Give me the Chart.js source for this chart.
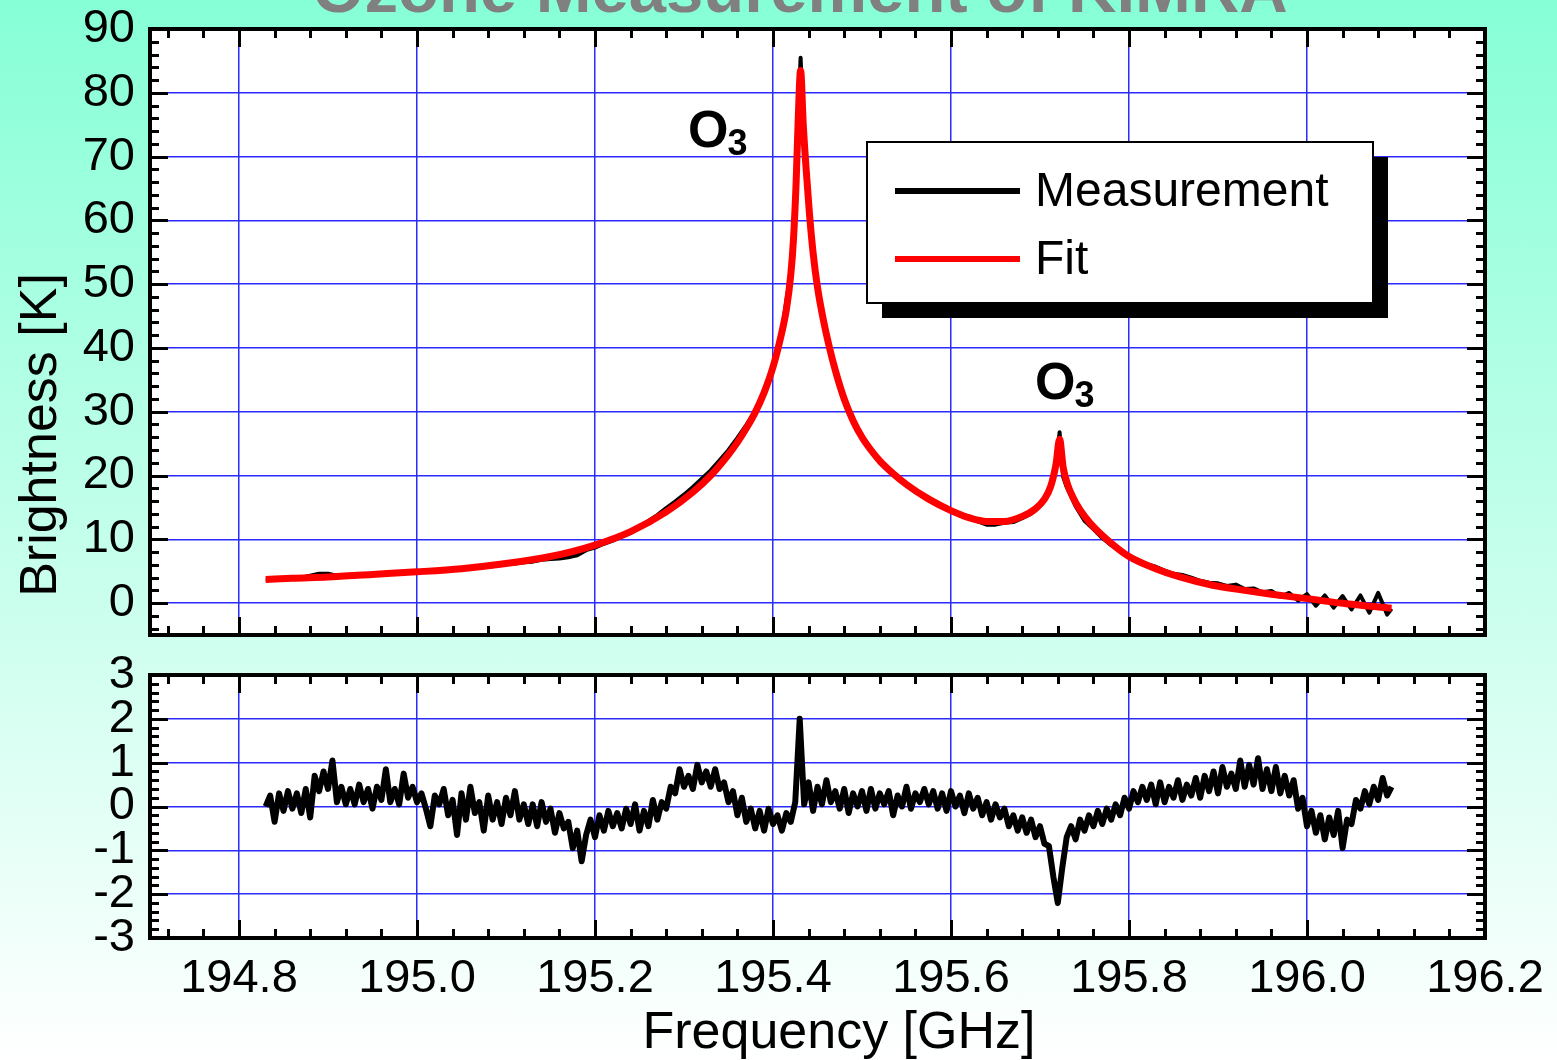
<!DOCTYPE html>
<html>
<head>
<meta charset="utf-8">
<script src="https://cdn.jsdelivr.net/npm/chart.js@4.4.0/dist/chart.umd.min.js"></script>
<style>
  html, body { margin: 0; padding: 0; }
  body {
    width: 1557px; height: 1060px; overflow: hidden; position: relative;
    background: linear-gradient(to bottom, #86ffd6 0%, #ffffff 100%);
  }
  canvas { position: absolute; left: 0; }
  #chart-top { top: 0; }
  #chart-bottom { top: 640px; }
</style>
</head>
<body>
<canvas id="chart-top" width="1557" height="660"></canvas>
<canvas id="chart-bottom" width="1557" height="420"></canvas>
<script>
// ---- data ----
const freqTicks = [194.8, 195.0, 195.2, 195.4, 195.6, 195.8, 196.0, 196.2];
const brightTicks = [0, 10, 20, 30, 40, 50, 60, 70, 80, 90];
const residTicks = [-3, -2, -1, 0, 1, 2, 3];

// measured spectrum [GHz] / [K]
const measFreq = [
  194.83, 194.84, 194.85, 194.86, 194.87, 194.88, 194.89, 194.90, 194.91, 194.92,
  194.93, 194.94, 194.95, 194.96, 194.97, 194.98, 194.99, 195.00, 195.01, 195.02,
  195.03, 195.04, 195.05, 195.06, 195.07, 195.08, 195.09, 195.10, 195.11, 195.12,
  195.13, 195.14, 195.15, 195.16, 195.17, 195.18, 195.19, 195.20, 195.21, 195.22,
  195.23, 195.24, 195.25, 195.26, 195.27, 195.28, 195.29, 195.30, 195.31, 195.32,
  195.33, 195.34, 195.35, 195.36, 195.37, 195.38, 195.39, 195.40, 195.41, 195.42,
  195.425, 195.428, 195.431, 195.434, 195.437, 195.44, 195.445, 195.45, 195.455, 195.46,
  195.47, 195.48, 195.49, 195.50, 195.51, 195.52, 195.53, 195.54, 195.55, 195.56,
  195.57, 195.58, 195.59, 195.60, 195.61, 195.62, 195.63, 195.64, 195.65, 195.66,
  195.67, 195.68, 195.69, 195.70, 195.71, 195.715, 195.718, 195.722, 195.726, 195.73,
  195.74, 195.75, 195.76, 195.77, 195.78, 195.79, 195.80, 195.81, 195.82, 195.83,
  195.84, 195.85, 195.86, 195.87, 195.88, 195.89, 195.90, 195.91, 195.92, 195.93,
  195.94, 195.95, 195.96, 195.97, 195.98, 195.99, 196.00, 196.01, 196.02, 196.03,
  196.04, 196.05, 196.06, 196.07, 196.08, 196.09, 196.095
];
const measK = [
  3.6, 3.7, 3.9, 3.8, 4.0, 4.3, 4.6, 4.6, 4.3, 4.3,
  4.4, 4.5, 4.6, 4.7, 4.8, 4.8, 5.0, 5.0, 5.1, 5.1,
  5.2, 5.3, 5.3, 5.5, 5.6, 5.7, 5.9, 6.1, 6.2, 6.4,
  6.5, 6.8, 6.9, 7.0, 7.2, 7.5, 8.3, 8.7, 9.3, 9.8,
  10.4, 11.0, 12.0, 12.9, 13.8, 14.9, 15.9, 17.0, 18.2, 19.5,
  20.8, 22.4, 24.0, 25.9, 27.9, 30.1, 33.3, 37.2, 42.7, 52.0,
  63.0, 75.0, 85.5, 76.0, 69.0, 62.5, 55.0, 49.5, 45.3, 41.8,
  36.4, 31.8, 28.4, 25.8, 23.8, 22.0, 20.7, 19.6, 18.4, 17.4,
  16.6, 15.8, 15.1, 14.4, 14.0, 13.6, 12.8, 12.3, 12.3, 12.6,
  12.7, 13.3, 14.0, 15.3, 17.6, 20.0, 21.5, 26.8, 19.8, 18.2,
  15.2, 12.9, 11.6, 10.2, 9.1, 8.2, 7.4, 6.8, 6.1, 5.7,
  5.1, 4.6, 4.4, 4.0, 3.5, 3.2, 3.1, 2.7, 2.9, 2.2,
  2.3, 1.7, 1.9, 1.0, 1.6, 0.4, 1.4, -0.4, 1.2, -0.7,
  1.1, -1.0, 1.2, -1.5, 1.6, -1.8, -0.9
];

// fitted model
const fitFreq = [
  194.83, 194.86, 194.90, 194.95, 195.00, 195.05, 195.10, 195.15, 195.20, 195.24,
  195.28, 195.31, 195.33, 195.35, 195.36, 195.37, 195.38, 195.39, 195.40, 195.41,
  195.415, 195.42, 195.423, 195.426, 195.428, 195.431, 195.434, 195.437, 195.441, 195.445,
  195.45, 195.456, 195.463, 195.47, 195.48, 195.49, 195.50, 195.51, 195.52, 195.535,
  195.55, 195.575, 195.60, 195.62, 195.64, 195.66, 195.68, 195.695, 195.705, 195.712,
  195.718, 195.722, 195.726, 195.731, 195.737, 195.745, 195.756, 195.775, 195.80, 195.83,
  195.857, 195.894, 195.93, 195.96, 196.00, 196.044, 196.095
];
const fitK = [
  3.7, 3.9, 4.1, 4.5, 4.9, 5.4, 6.2, 7.3, 9.1, 11.2,
  14.3, 17.4, 20.0, 23.3, 25.2, 27.4, 29.9, 33.0, 37.0, 42.5,
  46.0, 51.5, 57.0, 66.0, 74.5, 83.5, 75.0, 68.5, 61.0, 55.0,
  49.5, 44.8, 40.3, 36.5, 32.0, 28.6, 26.0, 24.0, 22.3, 20.3,
  18.6, 16.3, 14.5, 13.4, 12.8, 12.8, 13.6, 14.8, 16.3, 18.3,
  21.8, 25.7, 21.3, 18.6, 16.6, 14.6, 12.6, 10.0, 7.3, 5.4,
  4.1, 2.8, 2.0, 1.4, 0.7, -0.1, -0.8
];

// residual (measurement - fit)
const resFreq = [
  194.830, 194.835, 194.840, 194.845, 194.850, 194.855, 194.860, 194.865, 194.870, 194.875,
  194.880, 194.885, 194.890, 194.895, 194.900, 194.905, 194.910, 194.915, 194.920, 194.925,
  194.930, 194.935, 194.940, 194.945, 194.950, 194.955, 194.960, 194.965, 194.970, 194.975,
  194.980, 194.985, 194.990, 194.995, 195.000, 195.005, 195.010, 195.015, 195.020, 195.025,
  195.030, 195.035, 195.040, 195.045, 195.050, 195.055, 195.060, 195.065, 195.070, 195.075,
  195.080, 195.085, 195.090, 195.095, 195.100, 195.105, 195.110, 195.115, 195.120, 195.125,
  195.130, 195.135, 195.140, 195.145, 195.150, 195.155, 195.160, 195.165, 195.170, 195.175,
  195.180, 195.185, 195.190, 195.195, 195.200, 195.205, 195.210, 195.215, 195.220, 195.225,
  195.230, 195.235, 195.240, 195.245, 195.250, 195.255, 195.260, 195.265, 195.270, 195.275,
  195.280, 195.285, 195.290, 195.295, 195.300, 195.305, 195.310, 195.315, 195.320, 195.325,
  195.330, 195.335, 195.340, 195.345, 195.350, 195.355, 195.360, 195.365, 195.370, 195.375,
  195.380, 195.385, 195.390, 195.395, 195.400, 195.405, 195.410, 195.415, 195.420, 195.425,
  195.430, 195.435, 195.440, 195.445, 195.450, 195.455, 195.460, 195.465, 195.470, 195.475,
  195.480, 195.485, 195.490, 195.495, 195.500, 195.505, 195.510, 195.515, 195.520, 195.525,
  195.530, 195.535, 195.540, 195.545, 195.550, 195.555, 195.560, 195.565, 195.570, 195.575,
  195.580, 195.585, 195.590, 195.595, 195.600, 195.605, 195.610, 195.615, 195.620, 195.625,
  195.630, 195.635, 195.640, 195.645, 195.650, 195.655, 195.660, 195.665, 195.670, 195.675,
  195.680, 195.685, 195.690, 195.695, 195.700, 195.705, 195.710, 195.715, 195.720, 195.725,
  195.730, 195.735, 195.740, 195.745, 195.750, 195.755, 195.760, 195.765, 195.770, 195.775,
  195.780, 195.785, 195.790, 195.795, 195.800, 195.805, 195.810, 195.815, 195.820, 195.825,
  195.830, 195.835, 195.840, 195.845, 195.850, 195.855, 195.860, 195.865, 195.870, 195.875,
  195.880, 195.885, 195.890, 195.895, 195.900, 195.905, 195.910, 195.915, 195.920, 195.925,
  195.930, 195.935, 195.940, 195.945, 195.950, 195.955, 195.960, 195.965, 195.970, 195.975,
  195.980, 195.985, 195.990, 195.995, 196.000, 196.005, 196.010, 196.015, 196.020, 196.025,
  196.030, 196.035, 196.040, 196.045, 196.050, 196.055, 196.060, 196.065, 196.070, 196.075,
  196.080, 196.085, 196.090, 196.095
];
const resK = [
  0.00, 0.25, -0.35, 0.30, -0.10, 0.35, -0.05, 0.30, -0.15, 0.40,
  -0.25, 0.70, 0.35, 0.80, 0.40, 1.05, 0.10, 0.45, 0.05, 0.40,
  0.05, 0.50, 0.10, 0.40, -0.05, 0.45, 0.15, 0.85, 0.10, 0.40,
  0.05, 0.75, 0.20, 0.45, 0.10, 0.30, -0.05, -0.45, 0.25, 0.05,
  0.40, -0.20, 0.15, -0.65, 0.30, -0.30, 0.45, -0.15, 0.10, -0.55,
  0.25, -0.30, 0.10, -0.40, 0.20, -0.20, 0.35, -0.30, 0.05, -0.40,
  0.05, -0.45, 0.10, -0.35, -0.05, -0.60, -0.15, -0.50, -0.35, -0.95,
  -0.55, -1.25, -0.65, -0.30, -0.70, -0.20, -0.55, -0.10, -0.45, -0.15,
  -0.50, -0.05, -0.40, 0.05, -0.55, -0.10, -0.45, 0.15, -0.30, 0.10,
  -0.05, 0.45, 0.30, 0.85, 0.45, 0.70, 0.40, 0.95, 0.55, 0.80,
  0.45, 0.85, 0.40, 0.55, 0.10, 0.35, -0.20, 0.20, -0.35, -0.05,
  -0.50, -0.10, -0.55, -0.05, -0.40, -0.20, -0.55, -0.15, -0.35, 0.10,
  2.00, 0.05, 0.55, -0.10, 0.45, 0.05, 0.60, 0.10, 0.35, -0.05,
  0.40, -0.15, 0.30, 0.00, 0.35, -0.10, 0.40, -0.05, 0.30, 0.05,
  0.35, -0.20, 0.25, 0.00, 0.45, -0.05, 0.30, 0.10, 0.40, 0.05,
  0.35, -0.05, 0.30, -0.10, 0.35, 0.00, 0.25, -0.15, 0.30, -0.05,
  0.20, -0.20, 0.10, -0.30, 0.05, -0.25, -0.05, -0.45, -0.20, -0.55,
  -0.25, -0.60, -0.30, -0.70, -0.45, -0.85, -0.90, -1.60, -2.20, -1.40,
  -0.70, -0.45, -0.75, -0.30, -0.55, -0.20, -0.45, -0.10, -0.40, -0.05,
  -0.30, 0.05, -0.20, 0.20, -0.05, 0.35, 0.10, 0.45, 0.15, 0.50,
  0.05, 0.55, 0.10, 0.45, 0.20, 0.60, 0.15, 0.50, 0.25, 0.65,
  0.20, 0.70, 0.35, 0.80, 0.30, 0.90, 0.45, 0.75, 0.40, 1.05,
  0.45, 0.95, 0.50, 1.10, 0.40, 0.85, 0.35, 0.90, 0.30, 0.70,
  0.25, 0.60, -0.05, 0.20, -0.45, -0.10, -0.60, -0.20, -0.75, -0.25,
  -0.65, -0.10, -0.95, -0.30, -0.40, 0.15, -0.05, 0.35, 0.05, 0.45,
  0.15, 0.65, 0.25, 0.45
];

const FONT = "'Liberation Sans', Arial, Helvetica, sans-serif";
const GRID_BLUE = "#2b2bff";

function xy(fs, vs) {
  return fs.map((f, i) => ({ x: f, y: vs[i] }));
}

function isMajor(v, step) {
  return Math.abs(v / step - Math.round(v / step)) < 1e-6;
}

// white plot area + thick frame with inward ticks on all four sides
const frameTicks = {
  id: "frameTicks",
  beforeDraw(chart) {
    const { ctx, chartArea: a } = chart;
    ctx.save();
    ctx.fillStyle = "#fff";
    ctx.fillRect(a.left, a.top, a.right - a.left, a.bottom - a.top);
    ctx.restore();
  },
  afterDatasetsDraw(chart, args, o) {
    const { ctx, chartArea: a, scales: { x, y } } = chart;
    ctx.save();
    ctx.strokeStyle = "#000";
    ctx.lineWidth = 3;
    ctx.beginPath();
    for (let k = Math.ceil(x.min / o.xMinor - 1e-6); k * o.xMinor <= x.max + 1e-9; k++) {
      const v = k * o.xMinor;
      const len = isMajor(v, o.xMajor) ? 18 : 9;
      const px = Math.round(x.getPixelForValue(v)) + 0.5;
      ctx.moveTo(px, a.bottom); ctx.lineTo(px, a.bottom - len);
      ctx.moveTo(px, a.top); ctx.lineTo(px, a.top + len);
    }
    for (let k = Math.ceil(y.min / o.yMinor - 1e-6); k * o.yMinor <= y.max + 1e-9; k++) {
      const v = k * o.yMinor;
      const len = isMajor(v, o.yMajor) ? 18 : 9;
      const py = Math.round(y.getPixelForValue(v)) + 0.5;
      ctx.moveTo(a.left, py); ctx.lineTo(a.left + len, py);
      ctx.moveTo(a.right, py); ctx.lineTo(a.right - len, py);
    }
    ctx.stroke();
    ctx.lineWidth = 4;
    ctx.strokeRect(a.left, a.top, a.right - a.left, a.bottom - a.top);
    ctx.restore();
  }
};

// boxed legend with drop shadow
const boxLegend = {
  id: "boxLegend",
  afterDraw(chart, args, o) {
    const { ctx, chartArea: a } = chart;
    const x0 = a.left + o.left, y0 = a.top + o.top;
    ctx.save();
    ctx.fillStyle = "#000";
    ctx.fillRect(x0 + o.shadow, y0 + o.shadow, o.width, o.height);
    ctx.fillStyle = "#fff";
    ctx.fillRect(x0, y0, o.width, o.height);
    ctx.lineWidth = 2;
    ctx.strokeStyle = "#000";
    ctx.strokeRect(x0, y0, o.width, o.height);
    ctx.font = "48px " + FONT;
    ctx.textBaseline = "middle";
    ctx.textAlign = "left";
    chart.data.datasets.forEach((ds, i) => {
      const ly = y0 + 49 + i * 68;
      ctx.strokeStyle = ds.borderColor;
      ctx.lineWidth = 6;
      ctx.beginPath();
      ctx.moveTo(x0 + 28, ly);
      ctx.lineTo(x0 + 153, ly);
      ctx.stroke();
      ctx.fillStyle = "#000";
      ctx.fillText(ds.label, x0 + 168, ly + 2);
    });
    ctx.restore();
  }
};

// free text: figure title, axis titles, line annotations
const texts = {
  id: "texts",
  afterDraw(chart, args, o) {
    const { ctx, scales: { x, y } } = chart;
    ctx.save();
    (o.spots || []).forEach((s) => {
      const px = x.getPixelForValue(s.f), py = y.getPixelForValue(s.k);
      ctx.fillStyle = "#000";
      ctx.textAlign = "left";
      ctx.textBaseline = "alphabetic";
      ctx.font = "bold 52px " + FONT;
      ctx.fillText("O", px, py);
      const w = ctx.measureText("O").width;
      ctx.font = "bold 36px " + FONT;
      ctx.fillText("3", px + w - 1, py + 8);
    });
    if (o.title) {
      ctx.fillStyle = "#808080";
      ctx.font = "bold 67px " + FONT;
      ctx.textAlign = "center";
      ctx.textBaseline = "alphabetic";
      ctx.fillText(o.title, 800, 12);
    }
    if (o.yTitle) {
      ctx.fillStyle = "#000";
      ctx.font = "52px " + FONT;
      ctx.translate(56, 435);
      ctx.rotate(-Math.PI / 2);
      ctx.textAlign = "center";
      ctx.textBaseline = "alphabetic";
      ctx.fillText(o.yTitle, 0, 0);
      ctx.setTransform(1, 0, 0, 1, 0, 0);
    }
    if (o.xTitle) {
      ctx.fillStyle = "#000";
      ctx.font = "52px " + FONT;
      ctx.textAlign = "center";
      ctx.textBaseline = "alphabetic";
      ctx.fillText(o.xTitle, 839, 408);
    }
    ctx.restore();
  }
};

const tickFont = { size: 47, family: FONT };

function fixY(s) {
  s.width = 150;
  s.paddingTop = 0;
  s.paddingBottom = 0;
}

function fixX(h) {
  return (s) => {
    s.height = h;
    s.paddingLeft = 0;
    s.paddingRight = 0;
  };
}

new Chart(document.getElementById("chart-top"), {
  type: "line",
  plugins: [frameTicks, texts, boxLegend],
  data: {
    datasets: [
      {
        label: "Measurement",
        data: xy(measFreq, measK),
        borderColor: "#000000",
        borderWidth: 4,
        borderJoinStyle: "round",
        pointRadius: 0,
        tension: 0,
        order: 1
      },
      {
        label: "Fit",
        data: xy(fitFreq, fitK),
        borderColor: "#ff0000",
        borderWidth: 7,
        borderJoinStyle: "round",
        pointRadius: 0,
        cubicInterpolationMode: "monotone",
        order: 0
      }
    ]
  },
  options: {
    responsive: false,
    animation: false,
    devicePixelRatio: 1,
    layout: { padding: { top: 29, right: 72, left: 0, bottom: 0 } },
    plugins: {
      legend: { display: false },
      tooltip: { enabled: false },
      frameTicks: { xMinor: 0.04, xMajor: 0.2, yMinor: 2, yMajor: 10 },
      boxLegend: { left: 717, top: 113, width: 506, height: 161, shadow: 15 },
      texts: {
        title: "Ozone Measurement of KIMRA",
        yTitle: "Brightness [K]",
        spots: [{ f: 195.3045, k: 71.5 }, { f: 195.6944, k: 32.0 }]
      }
    },
    scales: {
      x: {
        type: "linear",
        min: 194.7,
        max: 196.2,
        afterBuildTicks: (s) => { s.ticks = freqTicks.map((v) => ({ value: v })); },
        afterFit: fixX(25),
        ticks: { display: false },
        grid: { color: GRID_BLUE, lineWidth: 1.5, drawTicks: false },
        border: { display: false }
      },
      y: {
        min: -5,
        max: 90,
        afterBuildTicks: (s) => { s.ticks = brightTicks.map((v) => ({ value: v })); },
        afterFit: fixY,
        ticks: { font: tickFont, color: "#000", padding: 15, autoSkip: false },
        grid: { color: GRID_BLUE, lineWidth: 1.5, drawTicks: false },
        border: { display: false }
      }
    }
  }
});

new Chart(document.getElementById("chart-bottom"), {
  type: "line",
  plugins: [frameTicks, texts],
  data: {
    datasets: [
      {
        label: "Residual",
        data: xy(resFreq, resK),
        borderColor: "#000000",
        borderWidth: 6,
        borderJoinStyle: "round",
        pointRadius: 0,
        tension: 0
      }
    ]
  },
  options: {
    responsive: false,
    animation: false,
    devicePixelRatio: 1,
    layout: { padding: { top: 35, right: 72, left: 0, bottom: 0 } },
    plugins: {
      legend: { display: false },
      tooltip: { enabled: false },
      frameTicks: { xMinor: 0.04, xMajor: 0.2, yMinor: 0.2, yMajor: 1 },
      texts: { xTitle: "Frequency [GHz]" }
    },
    scales: {
      x: {
        type: "linear",
        min: 194.7,
        max: 196.2,
        afterBuildTicks: (s) => { s.ticks = freqTicks.map((v) => ({ value: v })); },
        afterFit: fixX(122),
        ticks: {
          font: tickFont, color: "#000", padding: 13, autoSkip: false, maxRotation: 0,
          callback: (v) => Number(v).toFixed(1)
        },
        grid: { color: GRID_BLUE, lineWidth: 1.5, drawTicks: false },
        border: { display: false }
      },
      y: {
        min: -3,
        max: 3,
        afterBuildTicks: (s) => { s.ticks = residTicks.map((v) => ({ value: v })); },
        afterFit: fixY,
        ticks: { font: tickFont, color: "#000", padding: 15, autoSkip: false },
        grid: { color: GRID_BLUE, lineWidth: 1.5, drawTicks: false },
        border: { display: false }
      }
    }
  }
});
</script>
</body>
</html>
